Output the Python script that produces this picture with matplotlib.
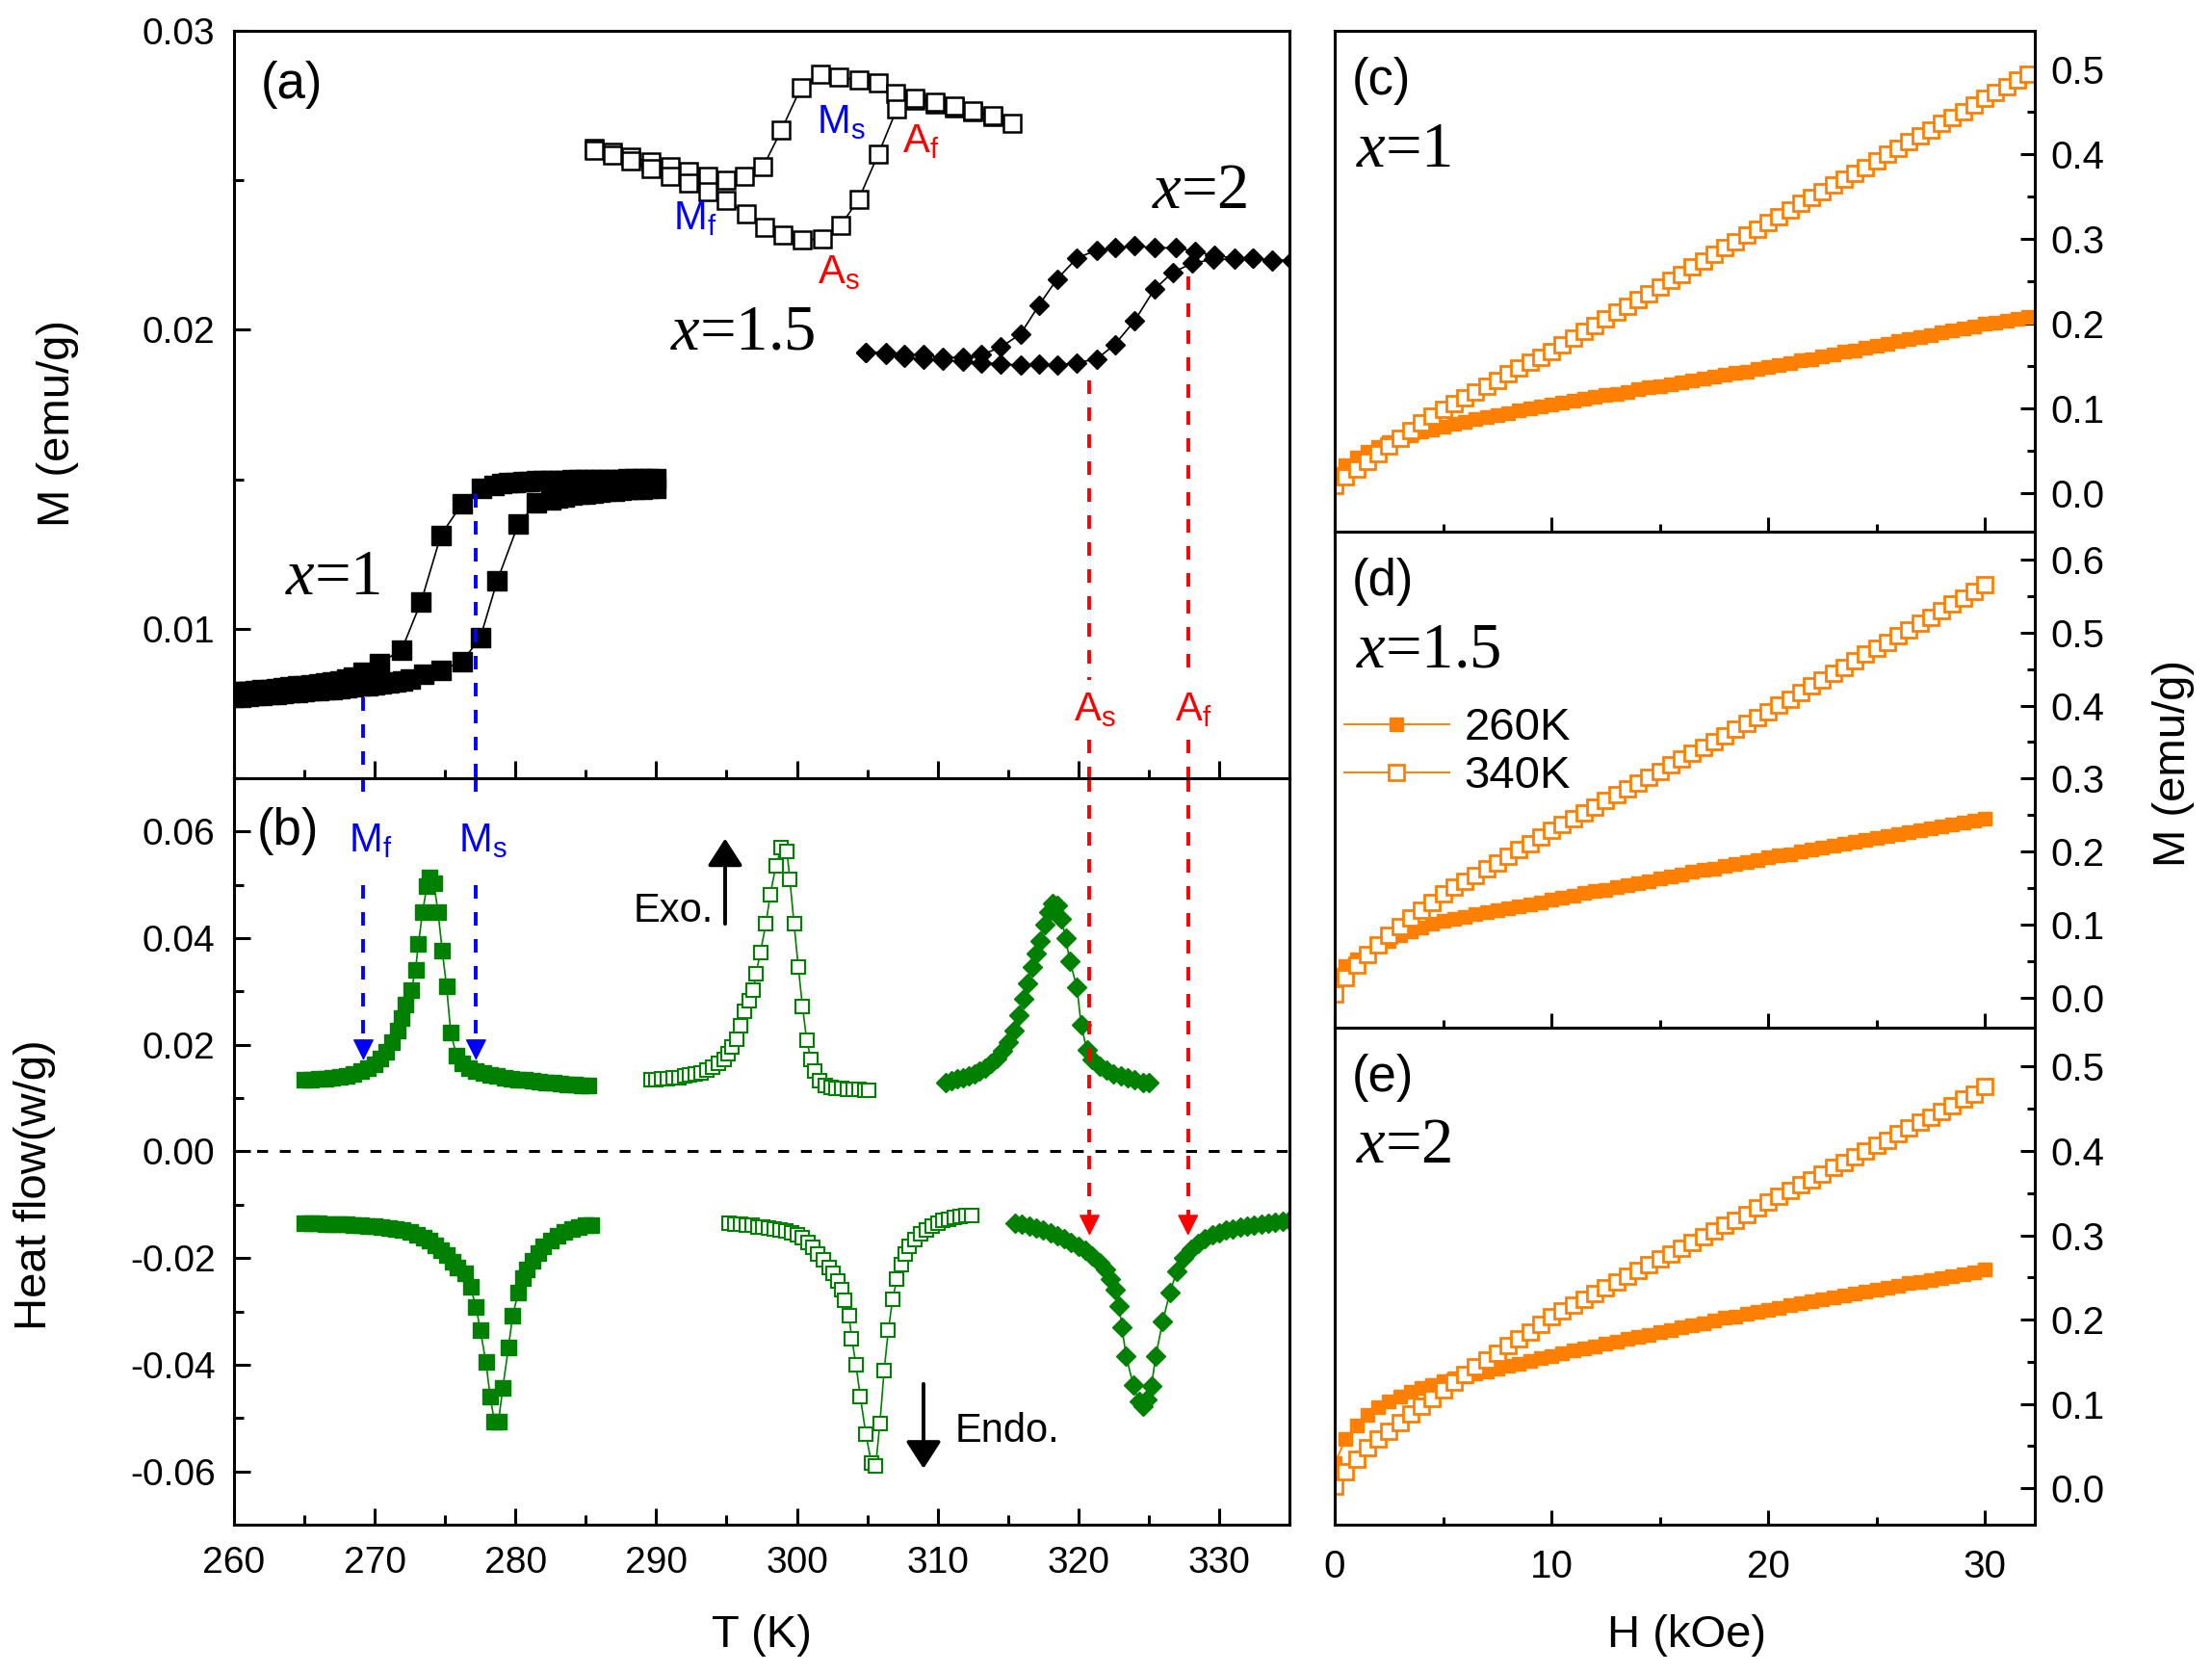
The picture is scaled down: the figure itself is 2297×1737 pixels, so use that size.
import numpy as np
import matplotlib.pyplot as plt
from matplotlib.ticker import MultipleLocator, FormatStrFormatter

plt.rcParams['font.family'] = ['Liberation Sans', 'DejaVu Sans']
plt.rcParams['mathtext.fontset'] = 'custom'
plt.rcParams['mathtext.it'] = 'Liberation Serif:italic'
plt.rcParams['mathtext.rm'] = 'Liberation Serif'
plt.rcParams['mathtext.default'] = 'regular'
plt.rcParams['axes.unicode_minus'] = False

# ---------------- (a) M(T) : rows are (T [K], M [emu/g]) ----------------
mt_x1_cool = np.array([
    [260.0, .00790], [260.5, .00790], [261.0, .00790], [261.5, .00792], [262.0, .00795],
    [262.5, .00797], [263.0, .00800], [263.5, .00802], [264.0, .00805], [264.5, .00808],
    [265.0, .00810], [265.5, .00812], [266.0, .00815], [266.5, .00818], [267.0, .00822],
    [267.5, .00826], [268.0, .00832], [268.5, .00840], [269.2, .00853], [270.3, .00885],
    [271.9, .00928], [273.3, .01091], [274.7, .01313], [276.2, .01418], [277.6, .01470],
    [278.5, .01480], [279.0, .01485], [279.5, .01488], [280.0, .01490], [280.5, .01492],
    [281.0, .01493], [281.5, .01494], [282.0, .01495], [282.5, .01496], [283.0, .01497],
    [283.5, .01497], [284.0, .01498], [284.5, .01498], [285.0, .01499], [285.5, .01499],
    [286.0, .01500], [286.5, .01500], [287.0, .01500], [287.5, .01500], [288.0, .01501],
    [288.5, .01501], [289.0, .01501], [289.5, .01501], [290.0, .01502]])
mt_x1_heat = np.array([
    [260.0, .00770], [260.5, .00772], [261.0, .00774], [261.5, .00776], [262.0, .00778],
    [262.5, .00780], [263.0, .00782], [263.5, .00784], [264.0, .00786], [264.5, .00788],
    [265.0, .00790], [265.5, .00792], [266.0, .00794], [266.5, .00796], [267.0, .00798],
    [267.5, .00800], [268.0, .00802], [268.5, .00805], [269.0, .00808], [269.5, .00810],
    [270.0, .00813], [270.5, .00816], [271.0, .00819], [271.5, .00822], [272.0, .00826],
    [272.5, .00832], [273.5, .00848], [274.7, .00862], [276.2, .00890], [277.5, .00970],
    [278.7, .01160], [280.2, .01350], [281.5, .01420], [282.5, .01432], [283.0, .01438],
    [283.5, .01442], [284.0, .01446], [284.5, .01449], [285.0, .01452], [285.5, .01455],
    [286.0, .01457], [286.5, .01459], [287.0, .01461], [287.5, .01463], [288.0, .01465],
    [288.5, .01466], [289.0, .01468], [289.5, .01469], [290.0, .01470]])
mt_x15_cool = np.array([
    [285.6, .02607], [286.9, .02595], [288.2, .02578], [289.6, .02562], [291.0, .02545],
    [292.3, .02528], [293.7, .02512], [295.0, .02500], [296.3, .02512], [297.6, .02545],
    [298.9, .02668], [300.3, .02811], [301.7, .02855], [303.0, .02846], [304.4, .02834],
    [305.8, .02825], [307.0, .02790], [308.4, .02769], [309.8, .02755], [311.2, .02743],
    [312.5, .02729], [313.9, .02712], [315.3, .02691]])
mt_x15_heat = np.array([
    [285.6, .02600], [286.9, .02585], [288.2, .02565], [289.6, .02540], [291.0, .02515],
    [292.3, .02490], [293.7, .02462], [295.0, .02432], [296.4, .02388], [297.7, .02344],
    [299.0, .02318], [300.4, .02301], [301.8, .02304], [303.1, .02348], [304.4, .02437],
    [305.8, .02589], [307.1, .02738], [308.4, .02773], [309.8, .02762], [311.2, .02748],
    [312.5, .02733], [313.9, .02716]])
mt_x2_cool = np.array([
    [304.9, .01925], [306.3, .01925], [307.6, .01916], [309.0, .01916], [310.4, .01907],
    [311.8, .01907], [313.1, .01916], [314.5, .01942], [315.9, .01986], [317.2, .02082],
    [318.5, .02170], [319.9, .02240], [321.3, .02266], [322.6, .02274], [324.0, .02280],
    [325.4, .02274], [326.9, .02274], [328.3, .02262], [329.7, .02248], [331.1, .02240],
    [332.4, .02240], [333.8, .02231], [335.2, .02231]])
mt_x2_heat = np.array([
    [304.9, .01925], [306.3, .01916], [307.6, .01907], [309.0, .01902], [310.4, .01898],
    [311.8, .01895], [313.1, .01890], [314.5, .01886], [315.9, .01881], [317.2, .01885],
    [318.5, .01881], [319.9, .01890], [321.3, .01902], [322.6, .01951], [324.0, .02030],
    [325.4, .02135], [326.7, .02192], [328.1, .02222], [329.6, .02236], [331.1, .02236],
    [332.4, .02240], [333.8, .02233], [335.2, .02233]])

# ---------------- (b) DSC : rows are (T [K], heat flow [W/g]) ----------------
dsc_x1_exo = np.array([
    [265.0, .0135], [265.5, .0135], [266.0, .0136], [266.5, .0137], [267.0, .0138],
    [267.5, .0140], [268.0, .0142], [268.5, .0145], [269.0, .0150], [269.5, .0156],
    [270.0, .0164], [270.4, .0174], [270.8, .0187], [271.2, .0205], [271.6, .0226],
    [271.9, .0250], [272.2, .0275], [272.6, .0303], [272.9, .0341], [273.1, .0389],
    [273.4, .0449], [273.7, .0497], [273.9, .0514], [274.2, .0503], [274.5, .0449],
    [274.8, .0376], [275.1, .0310], [275.4, .0224], [275.8, .0180], [276.2, .0165],
    [276.7, .0157], [277.2, .0151], [277.7, .0147], [278.2, .0144], [278.7, .0141],
    [279.2, .0139], [279.7, .0137], [280.2, .0135], [280.7, .0134], [281.2, .0133],
    [281.7, .0131], [282.2, .0130], [282.7, .0129], [283.2, .0127], [283.7, .0126],
    [284.2, .0125], [284.7, .0124], [285.2, .0123]])
dsc_x1_endo = np.array([
    [265.0, -.0135], [265.5, -.0135], [266.0, -.0135], [266.5, -.0136], [267.0, -.0136],
    [267.5, -.0137], [268.0, -.0137], [268.5, -.0138], [269.0, -.0139], [269.5, -.0140],
    [270.0, -.0140], [270.5, -.0142], [271.0, -.0143], [271.5, -.0145], [272.0, -.0148],
    [272.5, -.0151], [273.0, -.0156], [273.5, -.0162], [273.9, -.0168], [274.3, -.0176],
    [274.7, -.0185], [275.1, -.0195], [275.5, -.0206], [275.9, -.0217], [276.4, -.0229],
    [276.8, -.0254], [277.2, -.0292], [277.5, -.0335], [277.9, -.0395], [278.2, -.0459],
    [278.5, -.0506], [278.8, -.0506], [279.1, -.0443], [279.5, -.0368], [279.8, -.0308],
    [280.2, -.0265], [280.5, -.0238], [280.8, -.0222], [281.2, -.0205], [281.6, -.0190],
    [282.0, -.0178], [282.5, -.0167], [283.0, -.0158], [283.5, -.0151], [284.0, -.0146],
    [284.5, -.0142], [285.0, -.0139], [285.4, -.0138]])
dsc_x15_exo = np.array([
    [289.6, .0135], [290.0, .0135], [290.4, .0136], [290.8, .0137], [291.2, .0138],
    [291.6, .0139], [292.0, .0141], [292.4, .0143], [292.8, .0145], [293.2, .0148],
    [293.6, .0152], [294.0, .0158], [294.4, .0165], [294.8, .0173], [295.1, .0184],
    [295.4, .0196], [295.7, .0210], [296.0, .0235], [296.3, .0262], [296.6, .0282],
    [296.9, .0303], [297.1, .0333], [297.4, .0373], [297.8, .0427], [298.1, .0481],
    [298.5, .0535], [298.9, .0570], [299.3, .0562], [299.5, .0510], [299.8, .0427],
    [300.1, .0346], [300.4, .0272], [300.7, .0208], [301.0, .0173], [301.3, .0150],
    [301.6, .0133], [302.0, .0124], [302.4, .0121], [302.8, .0119], [303.2, .0118],
    [303.6, .0117], [304.0, .0116], [304.4, .0116], [304.8, .0115], [305.1, .0115]])
dsc_x15_endo = np.array([
    [295.2, -.0135], [295.6, -.0136], [296.0, -.0137], [296.4, -.0138], [296.8, -.0139],
    [297.2, -.0141], [297.6, -.0142], [298.0, -.0143], [298.4, -.0145], [298.8, -.0147],
    [299.2, -.0149], [299.6, -.0152], [300.0, -.0156], [300.4, -.0162], [300.8, -.0170],
    [301.1, -.0180], [301.5, -.0193], [301.9, -.0203], [302.3, -.0217], [302.6, -.0228],
    [302.9, -.0243], [303.2, -.0260], [303.4, -.0280], [303.7, -.0308], [303.9, -.0351],
    [304.2, -.0400], [304.5, -.0459], [304.9, -.0530], [305.3, -.0585], [305.6, -.0590],
    [305.9, -.0510], [306.2, -.0411], [306.5, -.0335], [306.8, -.0278], [307.1, -.0240],
    [307.4, -.0212], [307.7, -.0192], [308.0, -.0178], [308.4, -.0165], [308.8, -.0155],
    [309.2, -.0147], [309.6, -.0140], [310.0, -.0135], [310.4, -.0130], [310.8, -.0127],
    [311.2, -.0124], [311.6, -.0122], [312.0, -.0121], [312.4, -.0121]])
dsc_x2_exo = np.array([
    [310.6, .0130], [311.0, .0133], [311.4, .0136], [311.8, .0139], [312.2, .0142],
    [312.6, .0146], [313.0, .0151], [313.4, .0157], [313.8, .0165], [314.2, .0175],
    [314.6, .0188], [315.0, .0205], [315.4, .0226], [315.8, .0255], [316.1, .0286],
    [316.4, .0316], [316.7, .0346], [317.0, .0372], [317.3, .0395], [317.6, .0425],
    [317.9, .0449], [318.2, .0465], [318.5, .0462], [318.8, .0437], [319.1, .0400],
    [319.4, .0357], [319.9, .0308], [320.2, .0238], [320.6, .0190], [321.0, .0172],
    [321.5, .0160], [322.0, .0152], [322.5, .0146], [323.0, .0142], [323.5, .0138],
    [324.0, .0134], [324.6, .0130], [325.0, .0130]])
dsc_x2_endo = np.array([
    [315.5, -.0135], [316.0, -.0137], [316.5, -.0140], [317.0, -.0143], [317.5, -.0147],
    [318.0, -.0152], [318.5, -.0158], [319.0, -.0164], [319.5, -.0171], [320.0, -.0178],
    [320.5, -.0186], [321.0, -.0196], [321.5, -.0208], [321.9, -.0222], [322.3, -.0240],
    [322.6, -.0260], [322.9, -.0290], [323.1, -.0330], [323.4, -.0384], [323.9, -.0438],
    [324.3, -.0468], [324.6, -.0478], [324.9, -.0466], [325.2, -.0440], [325.5, -.0384],
    [326.0, -.0319], [326.5, -.0265], [327.0, -.0225], [327.5, -.0200], [328.0, -.0184],
    [328.5, -.0172], [329.0, -.0163], [329.5, -.0157], [330.0, -.0152], [330.5, -.0148],
    [331.0, -.0145], [331.5, -.0142], [332.0, -.0140], [332.5, -.0138], [333.0, -.0136],
    [333.5, -.0134], [334.0, -.0132], [334.5, -.0131], [335.0, -.0130]])

# transition temperatures marked by the dashed arrows
T_Mf, T_Ms = 269.2, 277.2
T_As, T_Af = 320.8, 327.8

# ---------------- (c)-(e) M(H) ----------------
H_c = [0, 0.5, 1, 1.5, 2, 2.5, 3, 3.5, 4, 4.5, 5, 5.5, 6, 6.5, 7, 7.5, 8, 8.5, 9, 9.5,
       10, 10.5, 11, 11.5, 12, 12.5, 13, 13.5, 14, 14.5, 15, 15.5, 16, 16.5, 17, 17.5,
       18, 18.5, 19, 19.5, 20, 20.5, 21, 21.5, 22, 22.5, 23, 23.5, 24, 24.5, 25, 25.5,
       26, 26.5, 27, 27.5, 28, 28.5, 29, 29.5, 30, 30.5, 31, 31.5, 32]
H_de = H_c[:61]

M_c_260 = [.023, .034, .042, .049, .055, .061, .065, .069, .073, .076,
           .079, .082, .085, .088, .090, .093, .095, .098, .100, .103,
           .105, .107, .110, .112, .114, .116, .118, .120, .123, .125,
           .127, .129, .131, .133, .136, .138, .140, .142, .144, .147,
           .149, .152, .154, .157, .159, .162, .164, .167, .169, .172,
           .174, .177, .180, .182, .185, .187, .190, .192, .195, .197,
           .200, .202, .204, .206, .208]
M_c_340 = [.010, .020, .029, .038, .047, .056, .065, .074, .083, .091,
           .099, .106, .113, .120, .127, .134, .141, .148, .155, .161,
           .168, .176, .183, .191, .198, .206, .214, .221, .229, .236,
           .244, .252, .259, .267, .274, .282, .290, .297, .305, .312,
           .320, .327, .335, .342, .349, .356, .364, .371, .378, .385,
           .393, .400, .407, .415, .422, .429, .437, .444, .451, .459,
           .466, .473, .480, .488, .495]
M_d_260 = [.032, .044, .053, .061, .071, .078, .085, .091, .096, .101,
           .105, .108, .111, .114, .117, .120, .122, .125, .128, .131,
           .134, .137, .140, .143, .146, .148, .151, .154, .157, .160,
           .163, .166, .169, .172, .175, .177, .180, .183, .186, .189,
           .192, .195, .197, .200, .203, .205, .208, .211, .213, .216,
           .219, .221, .224, .227, .229, .232, .235, .237, .240, .242,
           .245]
M_d_340 = [.005, .028, .045, .059, .073, .086, .098, .109, .120, .131,
           .142, .151, .160, .168, .177, .185, .194, .203, .211, .220,
           .229, .237, .245, .253, .261, .270, .278, .286, .294, .302,
           .310, .319, .327, .335, .343, .351, .359, .368, .376, .384,
           .392, .401, .409, .418, .427, .435, .444, .452, .461, .470,
           .478, .487, .496, .504, .513, .521, .530, .539, .547, .556,
           .565]
M_e_260 = [.030, .058, .075, .087, .096, .103, .109, .114, .119, .123,
           .127, .130, .133, .136, .139, .142, .145, .148, .151, .154,
           .157, .160, .163, .166, .168, .171, .174, .177, .180, .182,
           .185, .188, .191, .193, .196, .199, .202, .204, .207, .209,
           .212, .214, .217, .219, .222, .224, .226, .229, .231, .233,
           .236, .238, .240, .243, .245, .247, .249, .252, .254, .256,
           .259]
M_e_340 = [.003, .020, .035, .048, .058, .068, .078, .088, .097, .107,
           .117, .126, .135, .144, .152, .160, .169, .177, .185, .194,
           .203, .210, .217, .224, .231, .238, .245, .251, .258, .265,
           .272, .278, .285, .292, .298, .305, .312, .318, .325, .332,
           .339, .346, .353, .360, .366, .373, .380, .386, .393, .400,
           .407, .413, .420, .427, .434, .440, .447, .454, .461, .467,
           .476]

GREEN = '#008000'
ORANGE = '#FF8000'

fig = plt.figure(figsize=(22.97, 17.37), dpi=100)
ax_a = fig.add_axes([0.1058, 0.5348, 0.4771, 0.4468])
ax_b = fig.add_axes([0.1058, 0.0887, 0.4771, 0.4461])
ax_c = fig.add_axes([0.6034, 0.6822, 0.3165, 0.2994])
ax_d = fig.add_axes([0.6034, 0.3857, 0.3165, 0.2965])
ax_e = fig.add_axes([0.6034, 0.0887, 0.3165, 0.2970])


def style(ax, labelsize=28):
    for s in ax.spines.values():
        s.set_linewidth(2.2)
    ax.tick_params(which='both', direction='in', width=2.2, labelsize=labelsize)
    ax.tick_params(which='major', length=12)
    ax.tick_params(which='minor', length=7)


for ax in (ax_a, ax_b):
    style(ax)
    ax.set_xlim(260, 335)
    ax.xaxis.set_major_locator(MultipleLocator(10))
    ax.xaxis.set_minor_locator(MultipleLocator(5))
    ax.tick_params(axis='y', which='both', left=True, right=False, pad=14)
    ax.tick_params(axis='x', which='both', bottom=True, top=False, pad=16)
    ax.yaxis.set_major_formatter(FormatStrFormatter('%.2f'))

ax_a.set_ylim(0.005, 0.03)
ax_a.yaxis.set_major_locator(MultipleLocator(0.01))
ax_a.yaxis.set_minor_locator(MultipleLocator(0.005))
ax_a.tick_params(axis='x', labelbottom=False)
ax_a.tick_params(axis='x', which='major', direction='inout', length=26)
ax_a.tick_params(axis='x', which='minor', direction='inout', length=13)

ax_b.set_ylim(-0.07, 0.07)
ax_b.yaxis.set_major_locator(MultipleLocator(0.02))
ax_b.yaxis.set_minor_locator(MultipleLocator(0.01))

# ---- panel (a)
for d in (mt_x1_cool, mt_x1_heat):
    ax_a.plot(d[:, 0], d[:, 1], '-', color='k', lw=1.2, marker='s', ms=14, mfc='k', mec='k')
for d in (mt_x15_cool, mt_x15_heat):
    ax_a.plot(d[:, 0], d[:, 1], '-', color='k', lw=1.2, marker='s', ms=13.5, mfc='white',
              mec='k', mew=1.8)
for d in (mt_x2_cool, mt_x2_heat):
    ax_a.plot(d[:, 0], d[:, 1], '-', color='k', lw=1.2, marker='D', ms=10.5, mfc='k', mec='k')

ax_a.text(0.025, 0.928, '(a)', transform=ax_a.transAxes, fontsize=38, va='center')
ax_a.text(263.6, 0.0117, r'$\mathit{x}$=1', family='Liberation Serif', fontsize=48, va='center')
ax_a.text(291.0, 0.0199, r'$\mathit{x}$=1.5', family='Liberation Serif', fontsize=48, va='center')
ax_a.text(325.2, 0.0246, r'$\mathit{x}$=2', family='Liberation Serif', fontsize=48, va='center')
ax_a.text(301.4, 0.02694, 'M$_s$', color='b', fontsize=30, va='center')
ax_a.text(291.2, 0.0237, 'M$_f$', color='b', fontsize=30, va='center')
ax_a.text(307.5, 0.0263, 'A$_f$', color='r', fontsize=30, va='center')
ax_a.text(301.5, 0.0219, 'A$_s$', color='r', fontsize=30, va='center')

dash = (0, (3.6, 3.6))
# blue dashed guides (cooling): continuous through (a)
ax_a.plot([T_Mf, T_Mf], [0.0077, 0.005], color='b', lw=2.8, ls=dash)
ax_a.plot([T_Ms, T_Ms], [0.0145, 0.005], color='b', lw=2.8, ls=dash)
# red dashed guides (heating): broken around the labels
for T0, m0, lab in [(T_As, 0.0183, 'A$_s$'), (T_Af, 0.0218, 'A$_f$')]:
    ax_a.plot([T0, T0], [m0, 0.0083], color='r', lw=2.8, ls=dash)
    ax_a.plot([T0, T0], [0.0063, 0.005], color='r', lw=2.8, ls=dash)
    ax_a.text(T0 + 0.4, 0.0073, lab, color='r', fontsize=30, ha='center', va='center')

# ---- panel (b)
ax_b.axhline(0, color='k', lw=2.2, ls=(0, (3.7, 4)))
for d in (dsc_x1_exo, dsc_x1_endo):
    ax_b.plot(d[:, 0], d[:, 1], '-', color=GREEN, lw=1.2, marker='s', ms=11, mfc=GREEN, mec=GREEN)
for d in (dsc_x15_exo, dsc_x15_endo):
    ax_b.plot(d[:, 0], d[:, 1], '-', color=GREEN, lw=1.2, marker='s', ms=10, mfc='white',
              mec=GREEN, mew=1.5)
for d in (dsc_x2_exo, dsc_x2_endo):
    ax_b.plot(d[:, 0], d[:, 1], '-', color=GREEN, lw=1.2, marker='D', ms=10.5, mfc=GREEN, mec=GREEN)

ax_b.text(0.022, 0.929, '(b)', transform=ax_b.transAxes, fontsize=38, va='center')

head = dict(arrowstyle='-|>,head_length=0.7,head_width=0.35', mutation_scale=20,
            shrinkA=0, shrinkB=0, lw=1)
for T0, lab in [(T_Mf, 'M$_f$'), (T_Ms, 'M$_s$')]:
    ax_b.plot([T0, T0], [0.07, 0.066], color='b', lw=2.8, ls=dash)
    ax_b.plot([T0, T0], [0.050, 0.0190], color='b', lw=2.8, ls=dash)
    ax_b.text(T0 + 0.5, 0.0582, lab, color='b', fontsize=30, ha='center', va='center')
    ax_b.annotate('', xy=(T0, 0.0171), xytext=(0, 15), textcoords='offset points',
                  arrowprops=dict(head, color='b'))
for T0 in (T_As, T_Af):
    ax_b.plot([T0, T0], [0.07, -0.0140], color='r', lw=2.8, ls=dash)
    ax_b.annotate('', xy=(T0, -0.0158), xytext=(0, 15), textcoords='offset points',
                  arrowprops=dict(head, color='r'))

big = dict(arrowstyle='-|>,head_length=0.62,head_width=0.4', mutation_scale=28,
           shrinkA=0, shrinkB=0, lw=2.8, color='k')
ax_b.annotate('', xy=(294.9, 0.0587), xytext=(294.9, 0.0427), arrowprops=big)
ax_b.text(294.1, 0.0451, 'Exo.', fontsize=30, ha='right', va='center')
ax_b.annotate('', xy=(309.0, -0.0595), xytext=(309.0, -0.0436), arrowprops=big)
ax_b.text(311.2, -0.0524, 'Endo.', fontsize=30, ha='left', va='center')

# ---- panels (c)-(e)
mh = [(ax_c, H_c, M_c_260, M_c_340, (-0.045, 0.546), '(c)', '1'),
      (ax_d, H_de, M_d_260, M_d_340, (-0.041, 0.638), '(d)', '1.5'),
      (ax_e, H_de, M_e_260, M_e_340, (-0.043, 0.546), '(e)', '2')]
for ax, H, m260, m340, ylim, tag, xv in mh:
    style(ax, labelsize=29)
    ax.tick_params(which='major', length=11)
    ax.tick_params(which='minor', length=6)
    ax.yaxis.tick_right()
    ax.tick_params(axis='y', which='both', left=False, right=True, labelleft=False,
                   labelright=True, pad=11.5)
    ax.tick_params(axis='x', which='both', bottom=True, top=False, pad=18)
    ax.set_xlim(0, 32.3)
    ax.set_ylim(*ylim)
    ax.xaxis.set_major_locator(MultipleLocator(10))
    ax.xaxis.set_minor_locator(MultipleLocator(5))
    ax.yaxis.set_major_locator(MultipleLocator(0.1))
    ax.yaxis.set_minor_locator(MultipleLocator(0.05))
    ax.yaxis.set_major_formatter(FormatStrFormatter('%.1f'))
    ax.plot(H, m260, '-', color=ORANGE, lw=1.4, marker='s', ms=10.5, mfc=ORANGE, mec=ORANGE,
            label='260K')
    ax.plot(H, m340, '-', color=ORANGE, lw=1.4, marker='s', ms=12, mfc='white', mec=ORANGE,
            mew=2, label='340K')
    ax.text(0.024, 0.90, tag, transform=ax.transAxes, fontsize=38, va='center')
    ax.text(0.03, 0.76, r'$\mathit{x}$=' + xv, transform=ax.transAxes,
            family='Liberation Serif', fontsize=48, va='center')

for ax in (ax_c, ax_d):
    ax.tick_params(axis='x', labelbottom=False)
    ax.tick_params(axis='x', which='major', direction='inout', length=22)
    ax.tick_params(axis='x', which='minor', direction='inout', length=12)

ax_d.legend(loc='center left', bbox_to_anchor=(0.0137, 0.555), frameon=False, fontsize=34,
            handlelength=2.3, handletextpad=0.33, borderpad=0, borderaxespad=0,
            labelspacing=0.12, markerscale=1.0)

# axis titles
fig.text(0.0261, 0.7467, 'M (emu/g)', rotation=90, fontsize=34, ha='center', va='center')
fig.text(0.0157, 0.2919, 'Heat flow(w/g)', rotation=90, fontsize=34, ha='center', va='center')
fig.text(0.9826, 0.544, 'M (emu/g)', rotation=90, fontsize=34, ha='center', va='center')
fig.text(0.3444, 0.0225, 'T (K)', fontsize=34, ha='center', va='center')
fig.text(0.7623, 0.0225, 'H (kOe)', fontsize=34, ha='center', va='center')

fig.savefig('out.png', dpi=100)
